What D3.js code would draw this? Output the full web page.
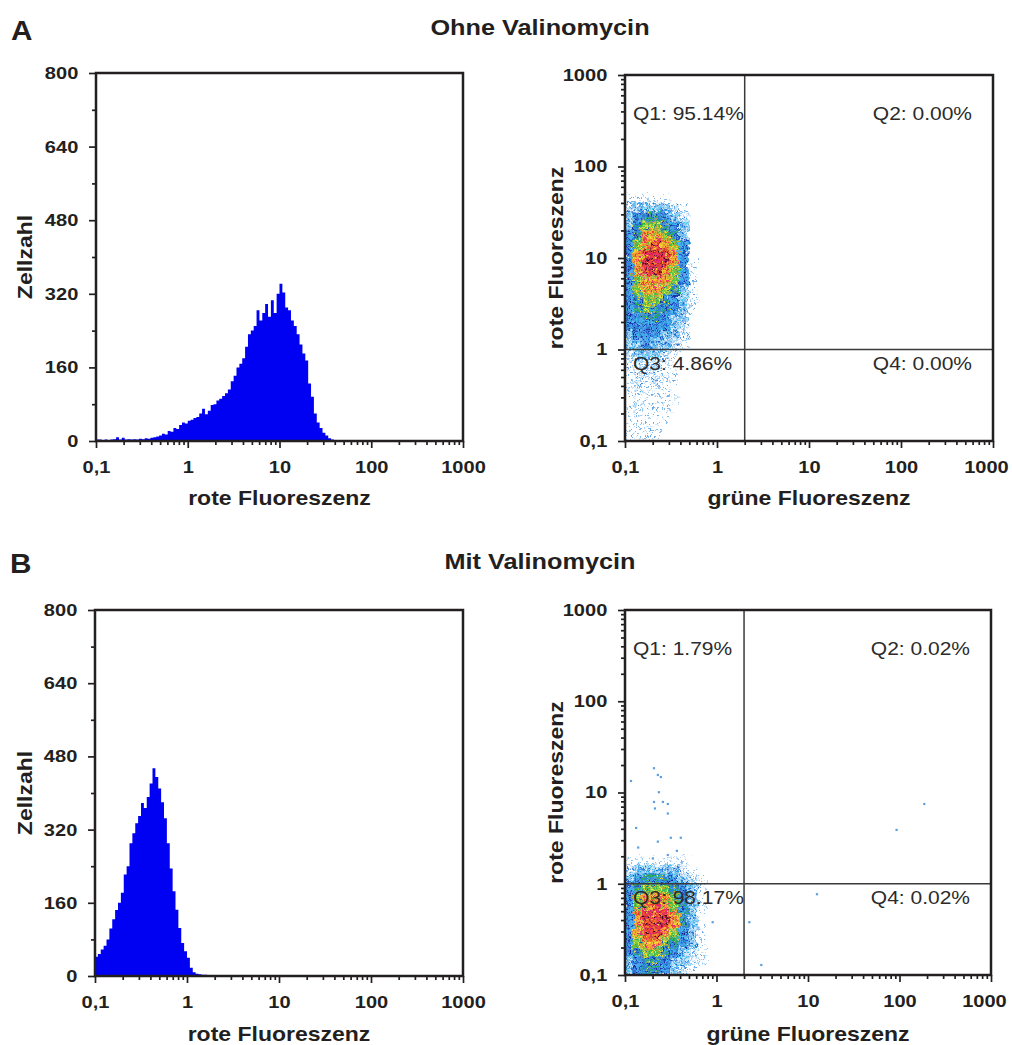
<!DOCTYPE html>
<html>
<head>
<meta charset="utf-8">
<script src="https://cdn.jsdelivr.net/npm/d3@7"></script>
<style>
  body { margin: 0; background: #fff; }
</style>
</head>
<body>
<div class="canvas"></div>
<script>
// ---- data ----
// histograms: 32 channels per decade, first channel starts at 0,1
const binsPerDecade = 32;
const histA = [3,3,2,3,2,3,4,8,3,7,3,4,3,4,3,5,4,6,5,7,8,10,12,16,14,22,20,28,26,35,40,38,
               44,46,50,52,60,70,58,66,78,80,88,92,98,104,112,130,142,160,168,180,205,232,240,250,
               284,262,278,298,270,306,278,320,342,323,290,284,262,250,232,210,190,175,125,96,60,40,
               28,18,12,6,3,1];
const histB = [42,48,58,66,80,104,124,144,160,182,222,240,290,312,334,350,378,367,391,421,454,435,
               410,380,345,290,235,185,145,105,72,54,40,18,8,5,4,3,3,2,2,2,2,1,2,1,1,2,1,1,1,1,2,1,
               1,1,0,1,1,1,1,0,1,1,0,1,1,0,1,0,1,0,1];

const decades = [0.1, 1, 10, 100, 1000];
const countTicks = [0, 160, 320, 480, 640, 800];
const countMinor = [80, 240, 400, 560, 720];

// dot plots as density grid, 10 cells per decade, first column/row at 0,1
// one string per row, top row first, digit = density level (0 empty .. 8 densest)
const densityA = [
  "111110000","233332100","345543200","356654300","457765300","467876400",
  "478887400","478887410","478876410","467776410","467765310","456654310",
  "456554310","445543300","444443200","344433200","334332100","233321000",
  "222211000","122211000","121211000","121110000","111111000","111110000",
  "111110000","111100000","111100000"
];
const densityB = [
  "111111100","233333210","345554321","456665431","467776431","467876531",
  "478887531","478887531","478876431","467765431","456654321","345543321",
  "345543210"
];
// single events outside the main population (grüne, rote)
const outliersB = [[0.116,13.4],[0.207,18.5],[0.228,15.6],[0.246,14.8],[0.234,10.1],[0.207,7.9],
                   [0.259,7.9],[0.293,7.5],[0.212,6.7],[0.293,5.9],[0.132,4.1],[0.139,2.5],
                   [0.228,2.9],[0.316,3.2],[0.406,3.2],[0.293,2.07],[0.368,2.3],[0.201,1.9],
                   [0.906,0.38],[2.28,0.38],[3.08,0.129],[12.5,0.77],[186,7.5],[92.7,3.9]];

const gateX = 2, gateY = 1;
const quadA = ["Q1: 95.14%", "Q2: 0.00%", "Q3: 4.86%", "Q4: 0.00%"];
const quadB = ["Q1: 1.79%", "Q2: 0.02%", "Q3: 98.17%", "Q4: 0.02%"];

// ---- style ----
const FONT = '"Liberation Sans", Arial, Helvetica, sans-serif';
const INK = '#231f20';

const densityLevels = [
  { bg: null,      n: 2, colors: ['#5fa6e6', '#8cc4f0', '#3f8ee0'] },
  { bg: null,      n: 5, colors: ['#4a9ee8', '#8fcaf2', '#2f7ad8'] },
  { bg: '#cfe7f9', n: 9, colors: ['#2f9ee8', '#5fb8ef', '#2266d0', '#40c4f0'] },
  { bg: '#4aa2e6', n: 9, colors: ['#1d3fc4', '#2a8ee0', '#141c8c', '#38c0f0', '#1f5ad4'] },
  { bg: '#2f7fd8', n: 9, colors: ['#22b24a', '#1b2ea0', '#3cc05a', '#30b8ee', '#e8e030'] },
  { bg: '#5cc24a', n: 9, colors: ['#f4e02a', '#f29a2a', '#26b04a', '#e8f040', '#2050c8'] },
  { bg: '#f3b030', n: 9, colors: ['#ee3030', '#f6e030', '#f08020', '#e02a80', '#40b840'] },
  { bg: '#ec3a3a', n: 9, colors: ['#e0208a', '#f47a20', '#c8186a', '#3a1020', '#f0d030'] }
];
const spots = [[1,1],[4.5,4],[4,0.5],[0.5,4.5],[2.5,2.8],[5.5,2],[2.2,5.6],[5.6,5.6],[2.4,0]];

const svg = d3.select('.canvas')
  .append('svg')
    .attr('width', 1012)
    .attr('height', 1045);

const defs = svg.append('defs');
densityLevels.forEach((lv, i) => {
  const p = defs.append('pattern')
    .attr('id', 'dens' + (i + 1))
    .attr('patternUnits', 'userSpaceOnUse')
    .attr('width', 7).attr('height', 7);
  if (lv.bg) p.append('rect').attr('width', 7).attr('height', 7).attr('fill', lv.bg);
  spots.slice(0, lv.n).forEach((s, j) => {
    p.append('rect')
      .attr('x', s[0]).attr('y', s[1])
      .attr('width', 1.8).attr('height', 1.8)
      .attr('fill', lv.colors[j % lv.colors.length]);
  });
});

// noise displacement so the grid cells read as scattered events, not blocks
const rough = defs.append('filter')
  .attr('id', 'rough')
  .attr('x', '-10%').attr('y', '-10%').attr('width', '120%').attr('height', '120%');
rough.append('feTurbulence')
  .attr('type', 'fractalNoise')
  .attr('baseFrequency', 0.22)
  .attr('numOctaves', 2)
  .attr('seed', 3)
  .attr('result', 'noise');
rough.append('feDisplacementMap')
  .attr('in', 'SourceGraphic')
  .attr('in2', 'noise')
  .attr('scale', 12)
  .attr('xChannelSelector', 'R')
  .attr('yChannelSelector', 'G');

const label = (g, txt, x, y, o) => g.append('text')
  .attr('transform', `translate(${x},${y}) rotate(${o.rotate || 0}) scale(${o.stretch || 1.15},1)`)
  .attr('text-anchor', o.anchor || 'start')
  .attr('font-family', FONT)
  .attr('font-size', o.size)
  .attr('font-weight', o.weight || 'bold')
  .attr('fill', o.fill || INK)
  .text(txt);

const fmt = d => d < 1 ? '0,1' : String(d);
const isDecade = d => Math.abs(Math.log10(d) - Math.round(Math.log10(d))) < 1e-6;

function styleAxis(a) {
  a.select('.domain').remove();
  a.selectAll('line').attr('stroke', INK).attr('stroke-width', 1.7);
  a.selectAll('text')
    .attr('font-family', FONT)
    .attr('font-size', 17)
    .attr('font-weight', 'bold')
    .attr('fill', INK)
    .attr('transform', 'scale(1.18,1)');
}

function drawAxes(g, x, y, yMajor, yMinor, yFmt) {
  const [x0, x1] = x.range();
  const [y0, y1] = y.range();
  const xMinor = x.ticks().filter(d => !isDecade(d));

  const bottom = g.append('g').attr('transform', `translate(0,${y0})`)
    .call(d3.axisBottom(x).tickValues(decades).tickFormat(fmt).tickSize(7).tickPadding(13).tickSizeOuter(0))
    .call(styleAxis);
  // keep the last label inside the page on the right-hand plots
  if (x1 > 900) bottom.selectAll('text').filter(d => d === 1000).attr('x', -6);

  g.append('g').attr('transform', `translate(0,${y0})`)
    .call(d3.axisBottom(x).tickValues(xMinor).tickFormat('').tickSize(4).tickSizeOuter(0))
    .call(styleAxis);
  g.append('g').attr('transform', `translate(${x0},0)`)
    .call(d3.axisLeft(y).tickValues(yMajor).tickFormat(yFmt).tickSize(7).tickPadding(8).tickSizeOuter(0))
    .call(styleAxis);
  g.append('g').attr('transform', `translate(${x0},0)`)
    .call(d3.axisLeft(y).tickValues(yMinor).tickFormat('').tickSize(4).tickSizeOuter(0))
    .call(styleAxis);

  g.append('rect')
    .attr('x', x0).attr('y', y1)
    .attr('width', x1 - x0).attr('height', y0 - y1)
    .attr('fill', 'none')
    .attr('stroke', INK)
    .attr('stroke-width', 2.5);
}

function drawHistogram(g, counts, box, xTitleY) {
  const x = d3.scaleLog().domain([0.1, 1000]).range([box.x0, box.x1]);
  const y = d3.scaleLinear().domain([0, 800]).range([box.y0, box.y1]);

  const pts = counts.map((c, i) => ({ v: Math.pow(10, -1 + i / binsPerDecade), c }));
  pts.push({ v: Math.pow(10, -1 + counts.length / binsPerDecade), c: 0 });

  const area = d3.area()
    .curve(d3.curveStepAfter)
    .x(d => x(d.v))
    .y0(y(0))
    .y1(d => y(d.c));

  g.append('path')
    .datum(pts)
    .attr('d', area)
    .attr('fill', '#0000f2');

  drawAxes(g, x, y, countTicks, countMinor, d3.format('d'));

  label(g, 'Zellzahl', 32, (box.y0 + box.y1) / 2, { rotate: -90, anchor: 'middle', size: 20 });
  label(g, 'rote Fluoreszenz', (box.x0 + box.x1) / 2, xTitleY, { anchor: 'middle', size: 20 });
}

function drawDotPlot(g, grid, outliers, quads, box, xTitleY, id) {
  const x = d3.scaleLog().domain([0.1, 1000]).range([box.x0, box.x1]);
  const y = d3.scaleLog().domain([0.1, 1000]).range([box.y0, box.y1]);

  defs.append('clipPath').attr('id', 'clip' + id)
    .append('rect')
      .attr('x', box.x0).attr('y', box.y1)
      .attr('width', box.x1 - box.x0).attr('height', box.y0 - box.y1);

  const cells = [];
  grid.forEach((row, ri) => {
    const r = grid.length - 1 - ri;
    row.split('').forEach((ch, c) => {
      if (ch !== '0') cells.push({ r, c, level: +ch });
    });
  });

  const plot = g.append('g').attr('clip-path', `url(#clip${id})`);
  plot.append('g')
    .attr('filter', 'url(#rough)')
    .selectAll('rect')
    .data(cells)
    .enter()
    .append('rect')
      .attr('x', d => x(Math.pow(10, -1 + d.c / 10)) - 1)
      .attr('y', d => y(Math.pow(10, -1 + (d.r + 1) / 10)))
      .attr('width', d => x(Math.pow(10, -1 + (d.c + 1) / 10)) - x(Math.pow(10, -1 + d.c / 10)) + 0.3)
      .attr('height', d => y(Math.pow(10, -1 + d.r / 10)) - y(Math.pow(10, -1 + (d.r + 1) / 10)) + 0.3)
      .attr('fill', d => `url(#dens${d.level})`);

  plot.selectAll('rect.event')
    .data(outliers)
    .enter()
    .append('rect')
      .attr('class', 'event')
      .attr('x', d => x(d[0]) - 1)
      .attr('y', d => y(d[1]) - 1)
      .attr('width', 2.2).attr('height', 2.2)
      .attr('fill', '#5b9fe0');

  // quadrant gate
  g.append('line')
    .attr('x1', x(gateX)).attr('x2', x(gateX))
    .attr('y1', box.y0).attr('y2', box.y1)
    .attr('stroke', '#3a3a3a').attr('stroke-width', 1.5);
  g.append('line')
    .attr('x1', box.x0).attr('x2', box.x1)
    .attr('y1', y(gateY)).attr('y2', y(gateY))
    .attr('stroke', '#3a3a3a').attr('stroke-width', 1.5);

  const qs = { size: 17.5, weight: 'normal', fill: '#2b2b2b', stretch: 1.2 };
  label(g, quads[0], box.x0 + 8, box.y1 + 45, qs);
  label(g, quads[1], box.x1 - 21, box.y1 + 45, { ...qs, anchor: 'end' });
  label(g, quads[2], box.x0 + 8, y(gateY) + 20, qs);
  label(g, quads[3], box.x1 - 21, y(gateY) + 20, { ...qs, anchor: 'end' });

  drawAxes(g, x, y, decades, y.ticks().filter(d => !isDecade(d)), fmt);

  label(g, 'rote Fluoreszenz', 563, (box.y0 + box.y1) / 2, { rotate: -90, anchor: 'middle', size: 20 });
  label(g, 'grüne Fluoreszenz', (box.x0 + box.x1) / 2, xTitleY, { anchor: 'middle', size: 20 });
}

// ---- row A: ohne Valinomycin ----
const rowA = svg.append('g');
label(rowA, 'A', 11, 40, { size: 27, stretch: 1.1 });
label(rowA, 'Ohne Valinomycin', 540, 35, { anchor: 'middle', size: 22 });
drawHistogram(rowA, histA, { x0: 96, x1: 463, y0: 441, y1: 73 }, 505);
drawDotPlot(rowA, densityA, [], quadA, { x0: 625, x1: 993, y0: 441, y1: 75 }, 505, 'A');

// ---- row B: mit Valinomycin ----
const rowB = svg.append('g');
label(rowB, 'B', 10, 573, { size: 27, stretch: 1.1 });
label(rowB, 'Mit Valinomycin', 540, 569, { anchor: 'middle', size: 22 });
drawHistogram(rowB, histB, { x0: 95, x1: 463, y0: 976, y1: 610 }, 1041);
drawDotPlot(rowB, densityB, outliersB, quadB, { x0: 625, x1: 991, y0: 975, y1: 610 }, 1041, 'B');
</script>
</body>
</html>
